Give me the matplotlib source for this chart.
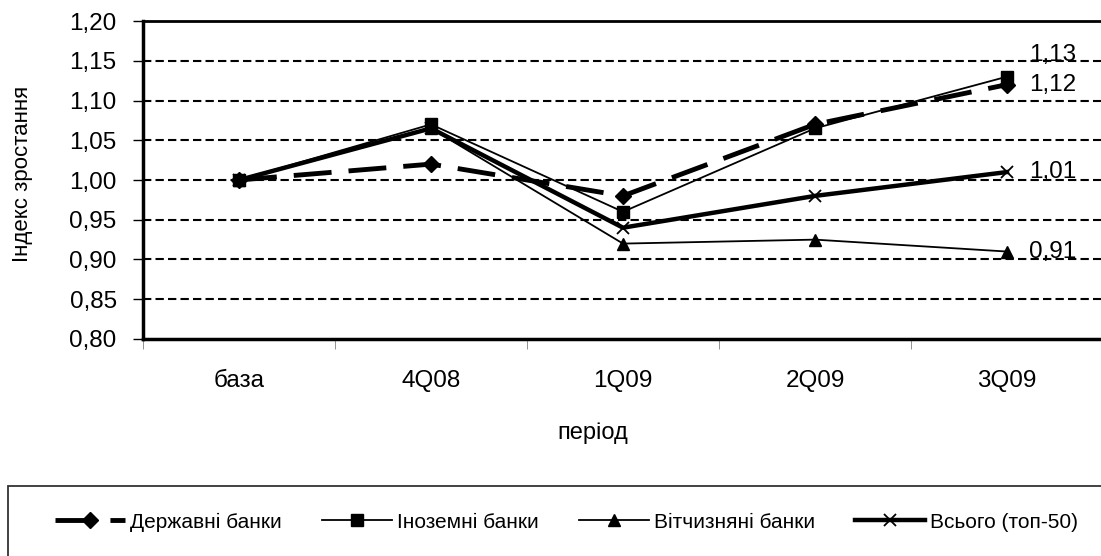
import matplotlib
matplotlib.use('Agg')
import matplotlib.pyplot as plt
from matplotlib.patches import Rectangle
import numpy as np

plt.rcParams['font.family'] = ['Liberation Sans', 'DejaVu Sans']

periods = ['база', '4Q08', '1Q09', '2Q09', '3Q09']
derzh = [1.00, 1.02, 0.98, 1.07, 1.12]
inozem = [1.00, 1.07, 0.96, 1.065, 1.13]
vitch = [1.00, 1.065, 0.92, 0.925, 0.91]
vsogo = [1.00, 1.065, 0.94, 0.98, 1.01]
yticks = [0.80, 0.85, 0.90, 0.95, 1.00, 1.05, 1.10, 1.15, 1.20]

fig = plt.figure(figsize=(11.01, 5.56), dpi=100)
ax = fig.add_axes([0.1299, 0.3903, 0.8719, 0.5719])

x = np.arange(len(periods))

for y in yticks[1:-1]:
    ax.axhline(y, color='black', lw=1.5, ls=(0, (4, 2)), zorder=1)

ax.plot(x, derzh, color='black', lw=3.5, ls=(0, (7.8, 3.5)), marker='D', ms=8, label='Державні банки', zorder=5)
ax.plot(x, inozem, color='black', lw=1.3, marker='s', ms=8, label='Іноземні банки', zorder=4)
ax.plot(x, vitch, color='black', lw=1.3, marker='^', ms=8, label='Вітчизняні банки', zorder=3)
ax.plot(x, vsogo, color='black', lw=3.2, marker='x', ms=8, mew=1.3, label='Всього (топ-50)', zorder=3)

ax.set_xlim(-0.5, 4.5)
ax.set_ylim(0.80, 1.20)
ax.set_yticks(yticks)
ax.set_yticklabels([('%.2f' % v).replace('.', ',') for v in yticks], fontsize=17.5)
ax.set_xticks(x)
ax.set_xticklabels(periods, fontsize=17.5)
ax.set_xticks(np.arange(-0.5, 5, 1), minor=True)
ax.tick_params(axis='x', which='major', length=0, pad=22)
ax.tick_params(axis='x', which='minor', length=7, direction='out', color='gray')
ax.tick_params(axis='y', length=7, direction='out', width=1, pad=12)

for s in ax.spines.values():
    s.set_linewidth(2)
ax.spines['left'].set_linewidth(2.5)
ax.spines['bottom'].set_linewidth(2.5)

ax.set_ylabel('Індекс зростання', fontsize=16)
ax.yaxis.set_label_coords(-0.115, 0.519)
ax.set_xlabel('період', fontsize=17)
ax.xaxis.set_label_coords(0.468, -0.26)

# data labels at the last point
ax.annotate(('%.2f' % inozem[-1]).replace('.', ','), (x[-1], inozem[-1]), xytext=(16, 15.5),
            textcoords='offset points', fontsize=17.5, va='center')
for s in [derzh, vsogo, vitch]:
    ax.annotate(('%.2f' % s[-1]).replace('.', ','), (x[-1], s[-1]), xytext=(16, 0),
                textcoords='offset points', fontsize=17.5, va='center')

# legend box (runs past the right and bottom edges, as in the source)
fig.patches.append(Rectangle((0.0073, -0.05), 1.1, 0.176, transform=fig.transFigure,
                             fill=False, edgecolor='#333333', lw=1.3))
h, l = ax.get_legend_handles_labels()
leg = fig.legend(h, l, loc='center left', bbox_to_anchor=(0.05, 0.0612), ncol=4,
                 fontsize=15, frameon=False, borderpad=0, borderaxespad=0,
                 handlelength=3.36, handletextpad=0.22, columnspacing=1.95)

fig.savefig('out.png', dpi=100)
